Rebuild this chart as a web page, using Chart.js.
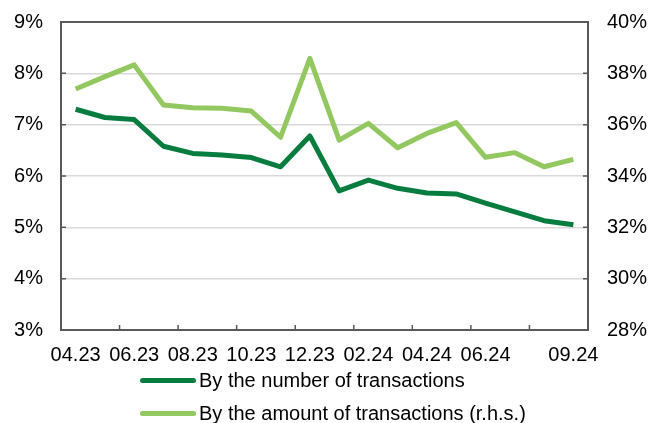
<!DOCTYPE html>
<html>
<head>
<meta charset="utf-8">
<script src="https://cdn.jsdelivr.net/npm/chart.js@4"></script>
<style>
  body { margin: 0; background: #fff; }
  #wrap { position: relative; width: 649px; height: 423px; }
  #legend { position: absolute; left: 140px; top: 364px; font: 20px "Liberation Sans", Arial, sans-serif; color: #000; }
  .item { display: flex; align-items: center; height: 33px; }
  .swatch { width: 56px; height: 5px; border-radius: 3px; margin-right: 3px; }
</style>
</head>
<body>
<div id="wrap">
  <canvas id="chart" width="649" height="423"></canvas>
  <div id="legend"></div>
</div>
<script>
// months on the x axis
const months = ["04.23", "05.23", "06.23", "07.23", "08.23", "09.23", "10.23", "11.23", "12.23",
  "01.24", "02.24", "03.24", "04.24", "05.24", "06.24", "07.24", "08.24", "09.24"];
// only these are printed under the axis
const tickLabels = ["04.23", "06.23", "08.23", "10.23", "12.23", "02.24", "04.24", "06.24", "09.24"];

// % , left axis
const byNumber = [7.30, 7.14, 7.10, 6.58, 6.44, 6.41, 6.36, 6.18, 6.78,
  5.71, 5.92, 5.76, 5.67, 5.65, 5.47, 5.30, 5.13, 5.05];
// % , right axis
const byAmount = [37.39, 37.87, 38.33, 36.77, 36.66, 36.64, 36.53, 35.51, 38.58,
  35.40, 36.05, 35.10, 35.66, 36.08, 34.73, 34.91, 34.36, 34.65];

const frameColor = "#595959";
const font = { family: "'Liberation Sans', Arial, sans-serif", size: 20 };

// top border + short inward tick marks
const framePlugin = {
  id: "frame",
  afterDraw(chart) {
    const { ctx, chartArea: a, scales } = chart;
    ctx.save();
    ctx.strokeStyle = frameColor;
    ctx.lineWidth = 2;
    ctx.beginPath();
    ctx.moveTo(a.left, a.top);
    ctx.lineTo(a.right, a.top);
    ctx.stroke();

    ctx.lineWidth = 1.5;
    ctx.beginPath();
    scales.y.ticks.forEach((t) => {
      const y = scales.y.getPixelForValue(t.value);
      ctx.moveTo(a.left, y);
      ctx.lineTo(a.left + 5, y);
    });
    scales.y1.ticks.forEach((t) => {
      const y = scales.y1.getPixelForValue(t.value);
      ctx.moveTo(a.right, y);
      ctx.lineTo(a.right - 5, y);
    });
    for (let i = 2; i < months.length; i += 2) {
      const x = (scales.x.getPixelForValue(i - 1) + scales.x.getPixelForValue(i)) / 2;
      ctx.moveTo(x, a.bottom);
      ctx.lineTo(x, a.bottom - 5);
    }
    ctx.stroke();
    ctx.restore();
  },
};

// fixed axis sizes so the plot box lands where the reference has it
const fixY = (s) => {
  s.width = 61;
  s.paddingTop = 0;
  s.paddingBottom = 0;
};

const chart = new Chart(document.getElementById("chart"), {
  type: "line",
  data: {
    labels: months,
    datasets: [
      {
        label: "By the number of transactions",
        data: byNumber,
        borderColor: "#077c3f",
        borderWidth: 5,
        pointRadius: 0,
        yAxisID: "y",
      },
      {
        label: "By the amount of transactions (r.h.s.)",
        data: byAmount,
        borderColor: "#92c85f",
        borderWidth: 5,
        pointRadius: 0,
        yAxisID: "y1",
      },
    ],
  },
  options: {
    responsive: false,
    animation: false,
    layout: { padding: { top: 22, left: 0, right: 0, bottom: 0 } },
    elements: { line: { tension: 0, borderJoinStyle: "round" } },
    plugins: { legend: { display: false }, tooltip: { enabled: false } },
    scales: {
      x: {
        offset: true,
        grid: { display: false, drawTicks: false },
        border: { color: frameColor, width: 2 },
        ticks: {
          color: "#000",
          font: font,
          padding: 13,
          autoSkip: false,
          maxRotation: 0,
          callback: (v, i) => (tickLabels.includes(months[i]) ? months[i] : ""),
        },
        afterFit: (s) => {
          s.height = 93;
          s.paddingLeft = 0;
          s.paddingRight = 0;
        },
      },
      y: {
        position: "left",
        min: 3,
        max: 9,
        grid: { color: "#d9d9d9", lineWidth: 1.5, drawTicks: false },
        border: { color: frameColor, width: 2 },
        ticks: { stepSize: 1, color: "#000", font: font, padding: 18, callback: (v) => v + "%" },
        afterFit: fixY,
      },
      y1: {
        position: "right",
        min: 28,
        max: 40,
        grid: { display: false, drawTicks: false },
        border: { color: frameColor, width: 2 },
        ticks: { stepSize: 2, color: "#000", font: font, padding: 19, callback: (v) => v + "%" },
        afterFit: fixY,
      },
    },
  },
  plugins: [framePlugin],
});

// legend below the plot, one entry per row
const legend = document.getElementById("legend");
chart.data.datasets.forEach((ds) => {
  const row = document.createElement("div");
  row.className = "item";
  const sw = document.createElement("span");
  sw.className = "swatch";
  sw.style.background = ds.borderColor;
  row.appendChild(sw);
  row.appendChild(document.createTextNode(ds.label));
  legend.appendChild(row);
});
</script>
</body>
</html>
